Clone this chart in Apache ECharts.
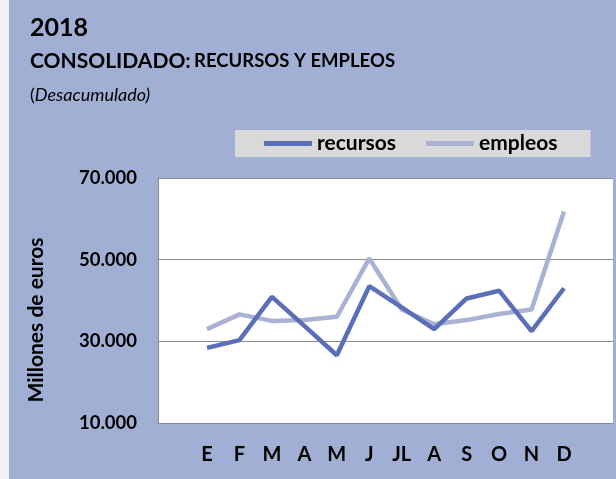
<!DOCTYPE html>
<html>
<head>
<meta charset="utf-8">
<script src="https://cdn.jsdelivr.net/npm/echarts@6/dist/echarts.min.js"></script>
<style>
  html, body { margin: 0; padding: 0; background: #f2f2f2; }
  #main { width: 616px; height: 479px; }
</style>
</head>
<body>
<div id="main"></div>
<script>
var meses = ["E", "F", "M", "A", "M", "J", "JL", "A", "S", "O", "N", "D"];
var recursos = [28400, 30300, 40900, 33800, 26600, 43500, 38300, 33000, 40500, 42400, 32500, 43000];
var empleos = [33000, 36600, 35000, 35200, 36000, 50300, 37800, 34200, 35200, 36700, 37800, 61800];
var yTicks = [10000, 30000, 50000, 70000];

var fuente = "Lato, 'Open Sans', sans-serif";
var chart = echarts.init(document.getElementById("main"));

var option = {
  backgroundColor: "#f2f2f2",
  textStyle: { fontFamily: fuente },
  graphic: [
    { type: "rect", left: 9, top: 0, shape: { width: 607, height: 479 }, style: { fill: "#a1afd5" }, z: -10 },
    {
      type: "text", left: 30, top: 15,
      style: { text: "2018", font: "bold 25px " + fuente, fill: "#000" }
    },
    {
      type: "text", left: 30, top: 51,
      style: {
        text: "{a|CONSOLIDADO:} {b|RECURSOS Y EMPLEOS}",
        rich: {
          a: { font: "bold 21px " + fuente, fill: "#000" },
          b: { font: "bold 18.5px " + fuente, fill: "#000" }
        }
      }
    },
    {
      type: "text", left: 30, top: 86,
      style: {
        text: "({a|Desacumulado)}",
        font: "18px " + fuente, fill: "#000",
        rich: { a: { font: "italic 18px " + fuente, fill: "#000" } }
      }
    },
    {
      type: "text", x: 36, y: 320, rotation: Math.PI / 2,
      style: { text: "Millones de euros", font: "bold 21px " + fuente, fill: "#000", align: "center", verticalAlign: "middle" }
    }
  ],
  legend: {
    data: ["recursos", "empleos"],
    left: 235, top: 130,
    padding: [3, 33, 3, 29],
    backgroundColor: "#d9d9d9",
    itemWidth: 48, itemHeight: 5, itemGap: 30,
    icon: "roundRect",
    textStyle: { fontFamily: fuente, fontWeight: "bold", fontSize: 21, color: "#000" }
  },
  grid: [
    { left: 158, right: 3, top: 178, bottom: 56, show: true, backgroundColor: "#fff", borderWidth: 0 },
    { left: 207, right: 52, top: 178, bottom: 56 }
  ],
  xAxis: [
    { gridIndex: 0, type: "category", data: meses, show: true,
      axisLine: { lineStyle: { color: "#7f8aa8", width: 1 } },
      axisTick: { show: false }, axisLabel: { show: false } },
    { gridIndex: 1, type: "category", data: meses, boundaryGap: false,
      axisLine: { show: false }, axisTick: { show: false },
      axisLabel: { color: "#000", fontWeight: "bold", fontSize: 20, fontFamily: fuente, margin: 22, interval: 0 } }
  ],
  yAxis: [
    { gridIndex: 0, type: "value", min: 10000, max: 70000, interval: 20000,
      axisLine: { show: true, lineStyle: { color: "#8c8c8c", width: 1 } },
      axisTick: { show: false },
      splitLine: { lineStyle: { color: "#8c8c8c", width: 1 } },
      axisLabel: {
        color: "#000", fontWeight: "bold", fontSize: 18.5, fontFamily: fuente, margin: 21,
        formatter: function (v) { return yTicks.indexOf(v) >= 0 ? (v / 1000).toFixed(3) : ""; }
      } },
    { gridIndex: 1, type: "value", min: 10000, max: 70000, show: false }
  ],
  series: [
    { name: "recursos", type: "line", xAxisIndex: 1, yAxisIndex: 1, data: recursos,
      symbol: "none", color: "#5a6fb7", lineStyle: { width: 4.5, color: "#5a6fb7" }, z: 3 },
    { name: "empleos", type: "line", xAxisIndex: 1, yAxisIndex: 1, data: empleos,
      symbol: "none", color: "#a9b1d4", lineStyle: { width: 4.5, color: "#a9b1d4" }, z: 2 }
  ]
};
chart.setOption(option);
</script>
</body>
</html>
